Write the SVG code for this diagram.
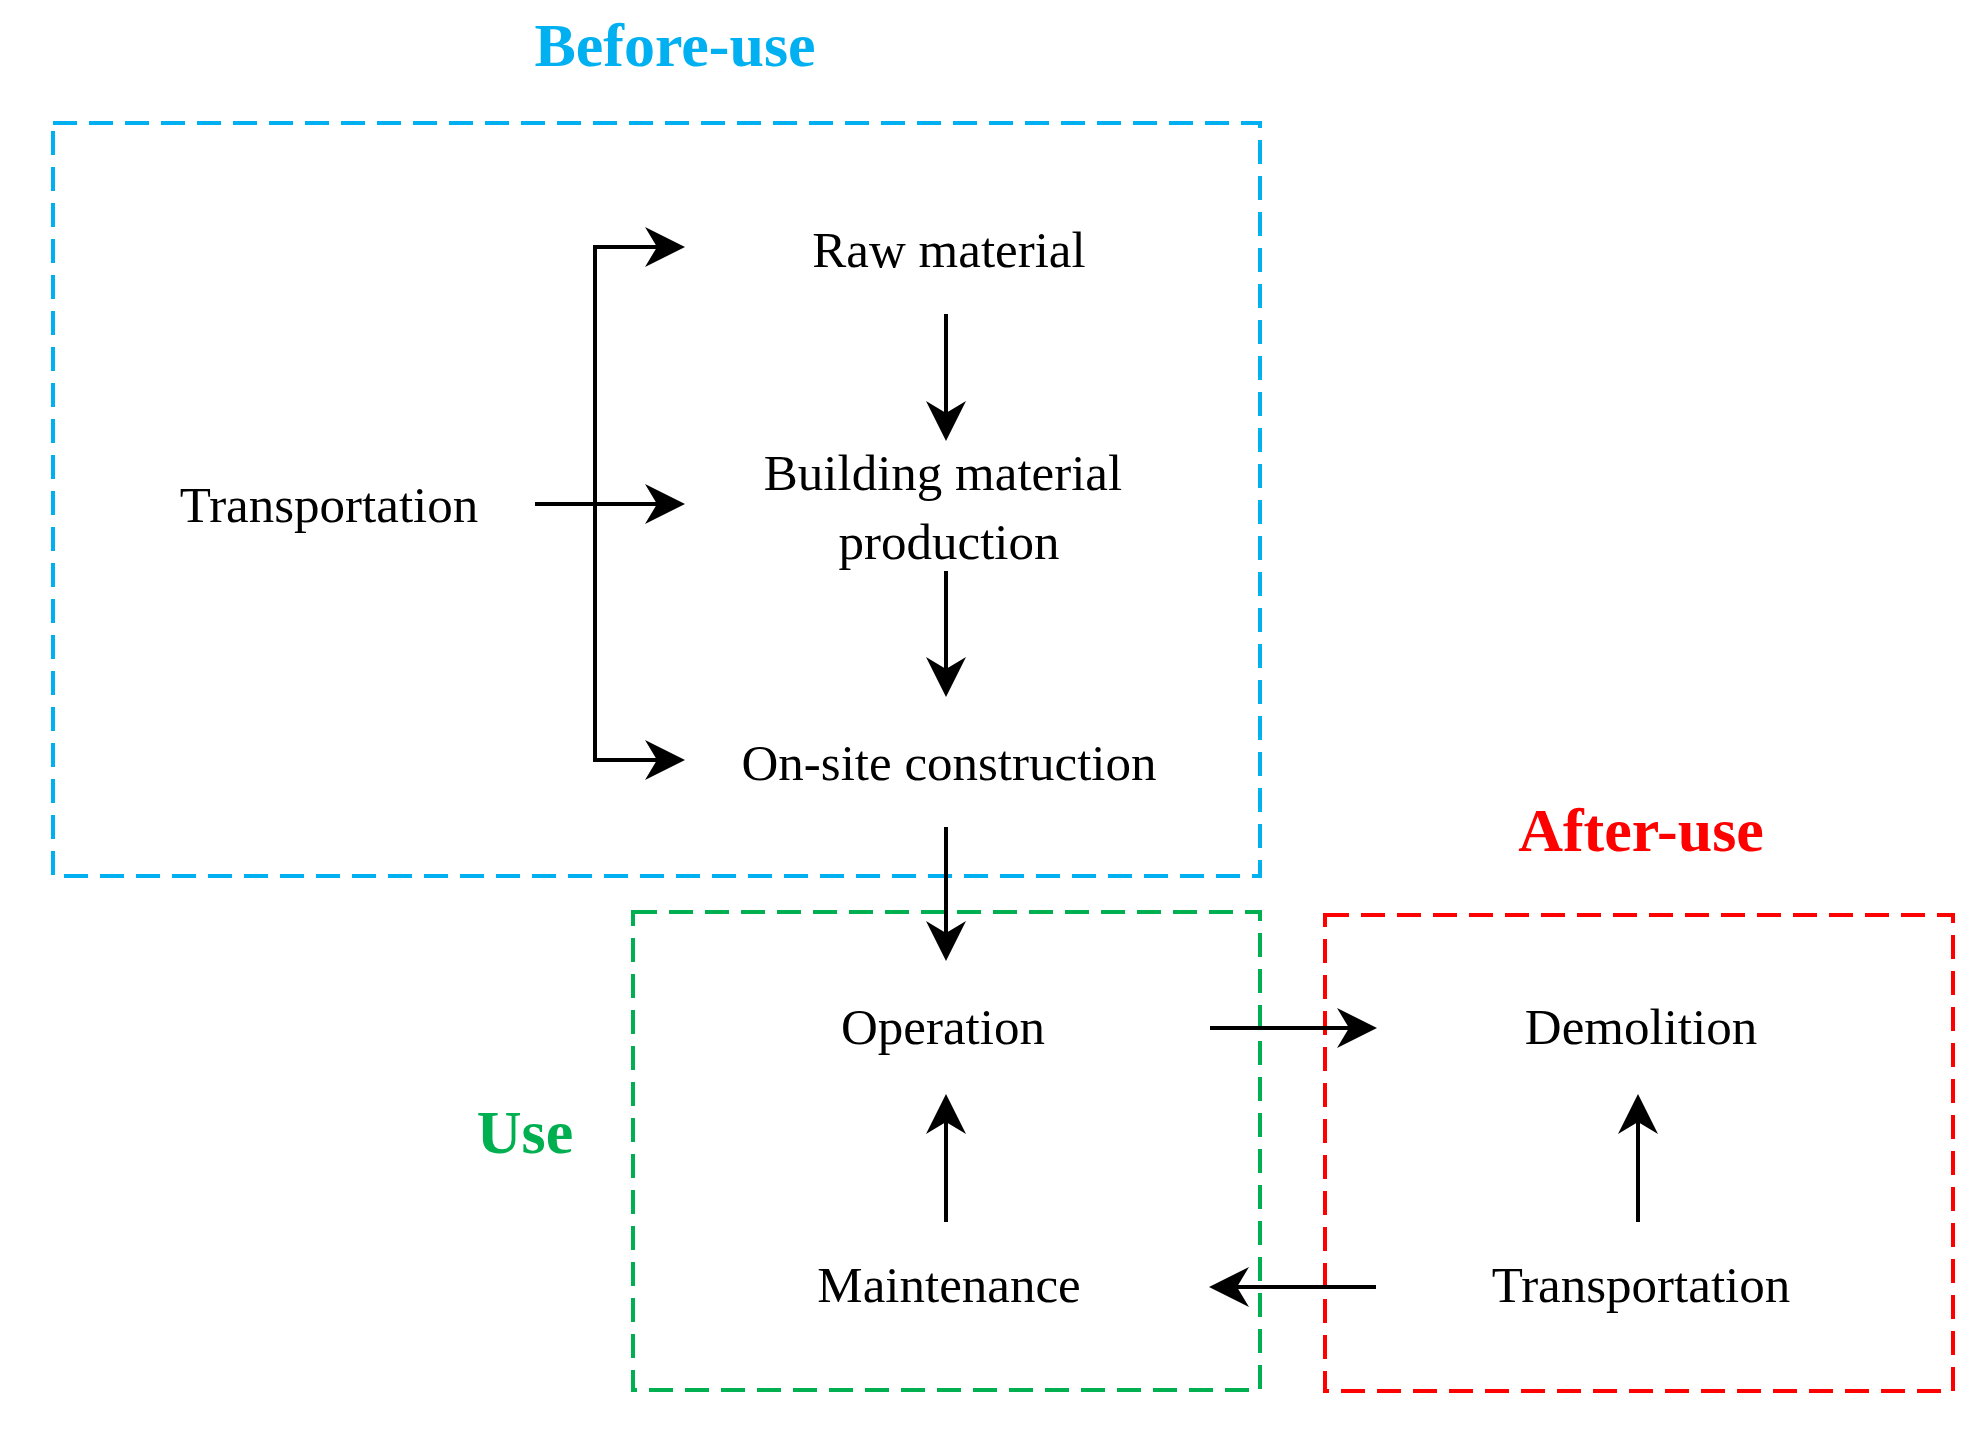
<svg xmlns="http://www.w3.org/2000/svg" width="1977" height="1432" viewBox="0 0 1977 1432">
<style>
.t{font-family:"Liberation Serif",serif;font-size:51px;text-anchor:middle;fill:#000}
.h{font-family:"Liberation Serif",serif;font-size:62px;font-weight:bold;text-anchor:middle}
.box{fill:none;stroke-width:4;stroke-dasharray:24 12}
.c{fill:none;stroke:#000;stroke-width:4;marker-end:url(#a)}
</style>
<defs>
<marker id="a" viewBox="0 0 20 20" refX="18" refY="10" markerWidth="10" markerHeight="10" markerUnits="strokeWidth" orient="auto">
<path d="M0,0 L20,10 L0,20 L6,10 Z" fill="#000"/>
</marker>
</defs>
<rect width="1977" height="1432" fill="#fff"/>
<g id="before-use"><rect class="box" x="53" y="123" width="1207" height="753" stroke="#00B0F0"/><text class="h" x="675" y="66" fill="#00B0F0">Before-use</text></g>
<g id="use"><rect class="box" x="633" y="912" width="627" height="478" stroke="#00B050"/><text class="h" x="525" y="1153" fill="#00B050">Use</text></g>
<g id="after-use"><rect class="box" x="1325" y="915" width="628" height="476" stroke="#FF0000"/><text class="h" x="1641" y="851" fill="#FF0000">After-use</text></g>
<g id="raw"><text class="t" x="949" y="267">Raw material</text></g>
<g id="transport1"><text class="t" x="329" y="522">Transportation</text></g>
<g id="bmp"><text class="t" x="943" y="490">Building material</text><text class="t" x="949" y="559">production</text></g>
<g id="onsite"><text class="t" x="949" y="780">On-site construction</text></g>
<g id="operation"><text class="t" x="943" y="1044">Operation</text></g>
<g id="demolition"><text class="t" x="1641" y="1044">Demolition</text></g>
<g id="maintenance"><text class="t" x="949" y="1302">Maintenance</text></g>
<g id="transport2"><text class="t" x="1641" y="1302">Transportation</text></g>
<g id="connectors">
<path class="c" d="M681,247 H595 V760 H681" style="marker-end:none"/>
<path class="c" d="M595,247 H681"/>
<path class="c" d="M595,760 H681"/>
<path class="c" d="M535,504 H681"/>
<path class="c" d="M946,314 V437"/>
<path class="c" d="M946,571 V693"/>
<path class="c" d="M946,827 V957"/>
<path class="c" d="M1210,1028 H1373"/>
<path class="c" d="M946,1222 V1098"/>
<path class="c" d="M1638,1222 V1098"/>
<path class="c" d="M1376,1287 H1213"/>
</g>
</svg>
